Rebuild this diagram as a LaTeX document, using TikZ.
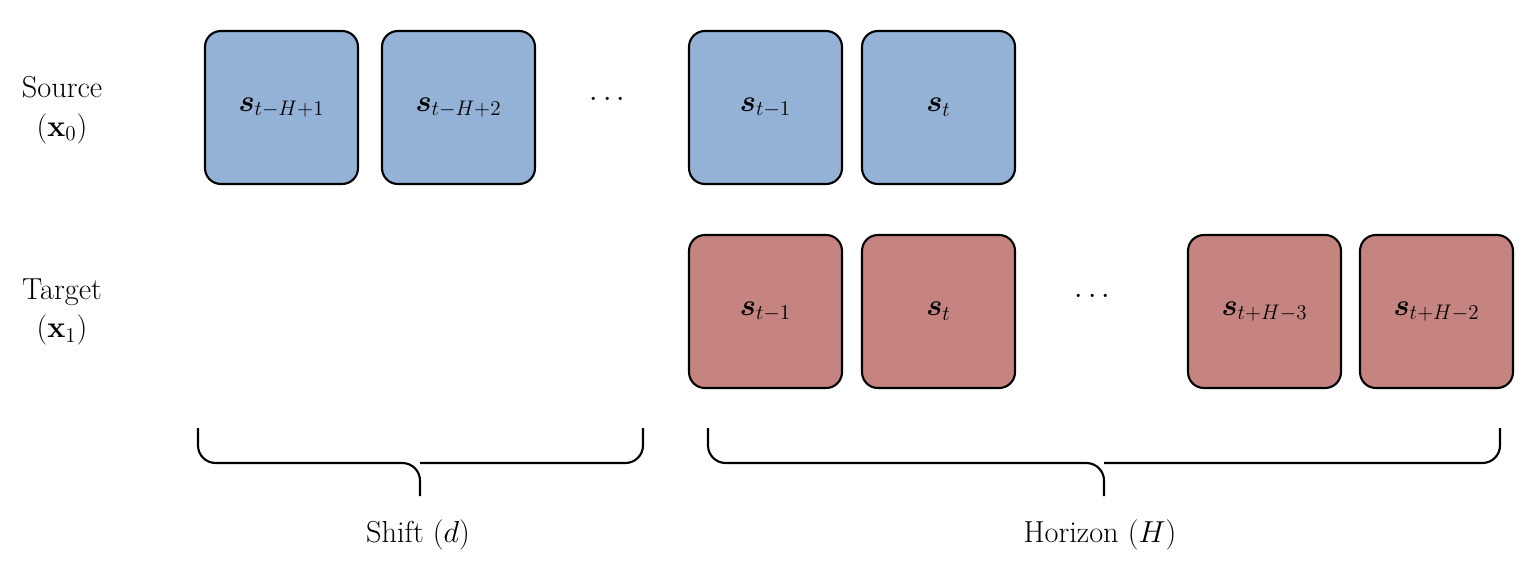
\documentclass[tikz,border=0pt]{standalone}
\usepackage{amsmath,bm}
\begin{document}
\begin{tikzpicture}[x=0.02cm,y=-0.02cm,
  box/.style={draw=black,line width=1.2pt,rounded corners=9pt,minimum width=3.06cm,minimum height=3.06cm,inner sep=0pt,font=\LARGE},
  src/.style={box,fill=blue1},
  tgt/.style={box,fill=red1},
  lab/.style={font=\LARGE,align=center},
  brace/.style={line width=1.2pt,rounded corners=10pt}]
\definecolor{blue1}{HTML}{94B2D6}
\definecolor{red1}{HTML}{C58480}
\useasboundingbox (0,0) rectangle (1540,565);
\node[lab] (srcl) at (62,110) {Source\\$(\mathbf{x}_0)$};
\node[lab] (tgtl) at (62,312) {Target\\$(\mathbf{x}_1)$};
\node[src] (a1) at (281.5,107.5) {$\bm{s}_{t-H+1}$};
\node[src] (a2) at (458.5,107.5) {$\bm{s}_{t-H+2}$};
\node[font=\LARGE] (d1) at (610,100) {$\cdots$};
\node[src] (a3) at (765.5,107.5) {$\bm{s}_{t-1}$};
\node[src] (a4) at (938.5,107.5) {$\bm{s}_{t}$};
\node[tgt] (b1) at (765.5,311.5) {$\bm{s}_{t-1}$};
\node[tgt] (b2) at (938.5,311.5) {$\bm{s}_{t}$};
\node[font=\LARGE] (d2) at (1095,297) {$\cdots$};
\node[tgt] (b3) at (1264.5,311.5) {$\bm{s}_{t+H-3}$};
\node[tgt] (b4) at (1436.5,311.5) {$\bm{s}_{t+H-2}$};
\draw[brace] (198,428) -- (198,463) -- (420,463) -- (420,496);
\draw[brace] (643,428) -- (643,463) -- (420,463);
\draw[brace] (708,428) -- (708,463) -- (1104,463) -- (1104,496);
\draw[brace] (1500,428) -- (1500,463) -- (1104,463);
\node[lab] (shift) at (418,535) {Shift $(d)$};
\node[lab] (hor) at (1100,535) {Horizon $(H)$};
\end{tikzpicture}
\end{document}
